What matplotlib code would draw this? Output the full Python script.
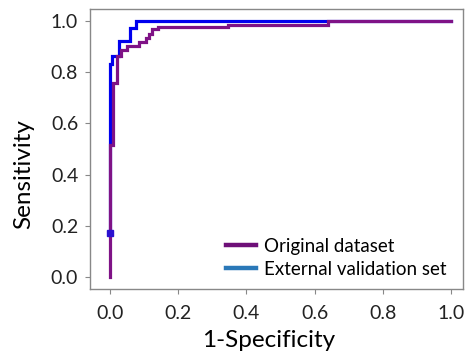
import matplotlib
matplotlib.use("Agg")
import matplotlib.pyplot as plt
from matplotlib.lines import Line2D

plt.rcParams['font.family'] = ['Lato', 'DejaVu Sans']

# Original dataset ROC (step points)
orig_fpr = [0.0, 0.0, 0.01, 0.01, 0.02, 0.02, 0.031, 0.031, 0.05, 0.05, 0.085, 0.085,
            0.105, 0.105, 0.114, 0.114, 0.123, 0.123, 0.14, 0.14, 0.345, 0.345, 0.64, 0.64, 1.0]
orig_tpr = [0.0, 0.516, 0.516, 0.76, 0.76, 0.865, 0.865, 0.887, 0.887, 0.904, 0.904, 0.92,
            0.92, 0.934, 0.934, 0.949, 0.949, 0.969, 0.969, 0.977, 0.977, 0.985, 0.985, 1.0, 1.0]

# External validation set ROC (step points)
ext_fpr = [0.0, 0.0, 0.007, 0.007, 0.026, 0.026, 0.059, 0.059, 0.075, 0.075, 1.0]
ext_tpr = [0.17, 0.832, 0.832, 0.864, 0.864, 0.923, 0.923, 0.973, 0.973, 1.0, 1.0]

marker_x = [0.0]
marker_y = [0.17]

xticks = [0.0, 0.2, 0.4, 0.6, 0.8, 1.0]
yticks = [0.0, 0.2, 0.4, 0.6, 0.8, 1.0]

fig = plt.figure(figsize=(4.66, 3.52), dpi=100)
ax = fig.add_axes([0.193, 0.179, 0.801, 0.795])

ax.plot(ext_fpr, ext_tpr, color='#0000ee', lw=2.3, solid_joinstyle='miter', zorder=2)
ax.plot(orig_fpr, orig_tpr, color='#7f1286', lw=2.3, solid_joinstyle='miter', zorder=3)
ax.plot(marker_x, marker_y, marker='s', color='#2a10d0', ms=5, ls='none', zorder=4)

ax.set_xlim(-0.0587, 1.035)
ax.set_ylim(-0.047, 1.047)
ax.set_xticks(xticks)
ax.set_yticks(yticks)
ax.set_xticklabels([f"{v:.1f}" for v in xticks])
ax.set_yticklabels([f"{v:.1f}" for v in yticks])
ax.tick_params(labelsize=14, colors='#222222', length=3.5, width=0.8)
ax.tick_params(axis='both', color='#888888')
ax.tick_params(axis='x', pad=8)
ax.tick_params(axis='y', pad=5)
for s in ax.spines.values():
    s.set_color('#888888')
    s.set_linewidth(1.0)

ax.set_xlabel('1-Specificity', fontsize=17.5)
ax.set_ylabel('Sensitivity', fontsize=17.5)
ax.xaxis.set_label_coords(0.48, -0.145)
ax.yaxis.set_label_coords(-0.15, 0.41)

handles = [Line2D([0], [0], color='#6e0f78', lw=3.2),
           Line2D([0], [0], color='#2a78b8', lw=3.2)]
ax.legend(handles, ['Original dataset', 'External validation set'],
          loc='lower right', frameon=False, fontsize=13.5,
          handlelength=1.6, handletextpad=0.4, labelspacing=0.32,
          bbox_to_anchor=(1.0, -0.02))

fig.savefig('out.png', dpi=100)
